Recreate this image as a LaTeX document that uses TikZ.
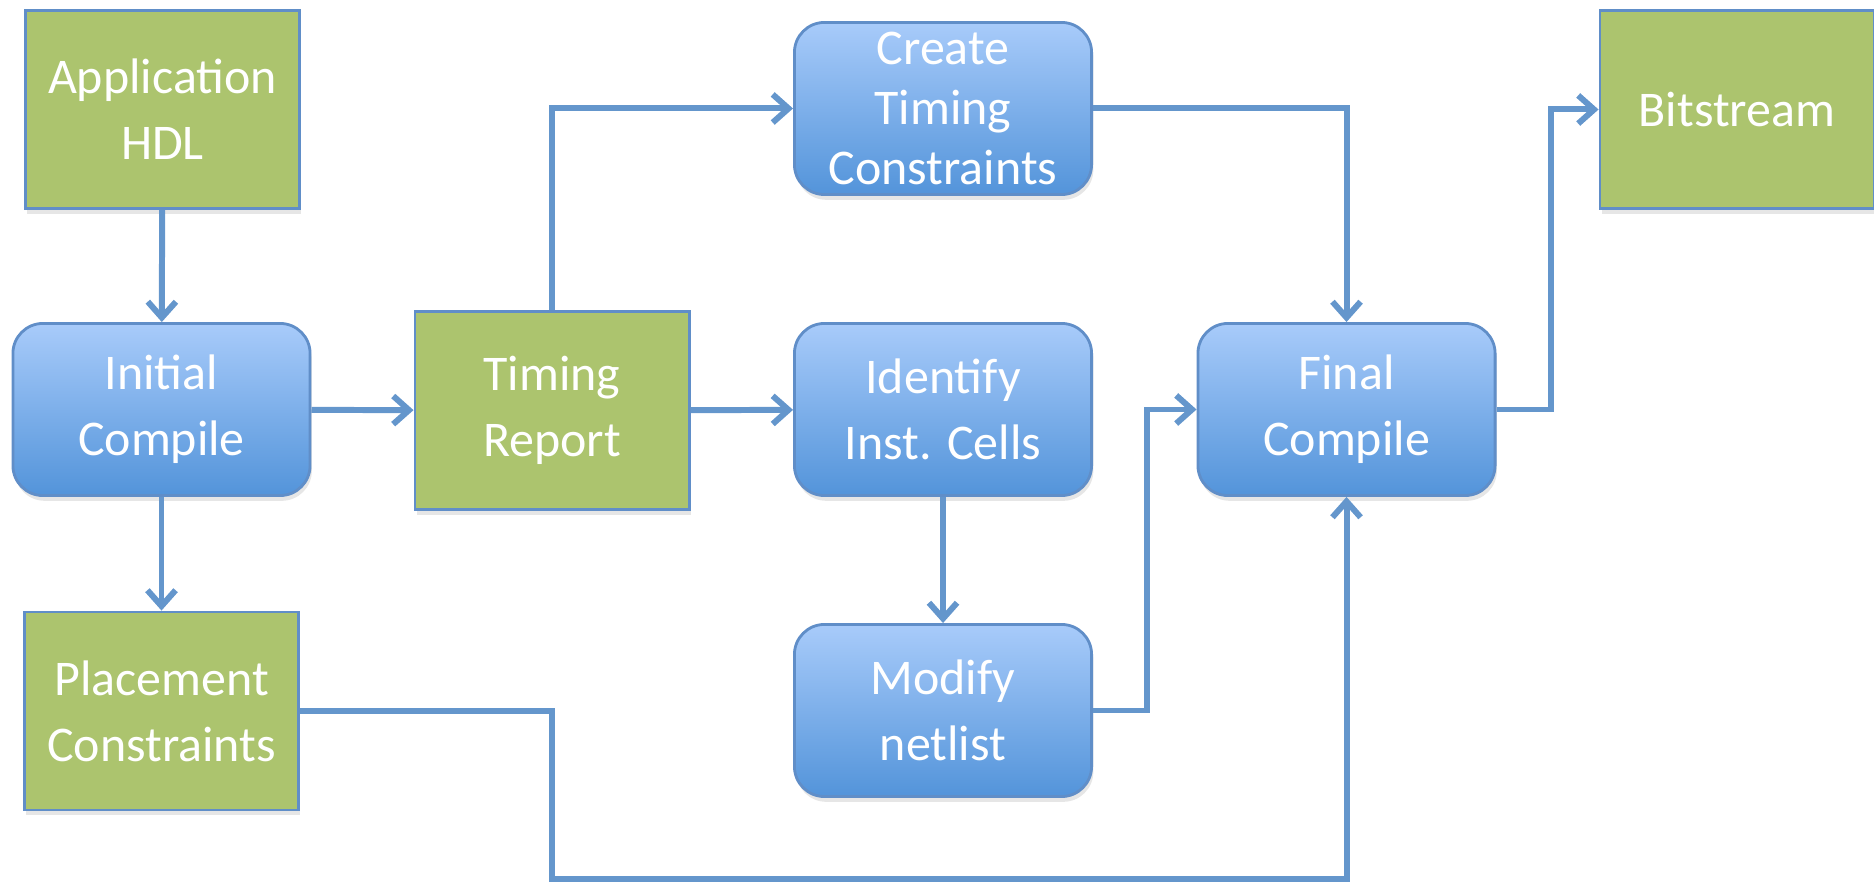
\documentclass[tikz,border=0pt]{standalone}
\usepackage{fontspec}
\setmainfont{Carlito}
\usepackage{tikz}
\usetikzlibrary{arrows.meta,shadows}

\definecolor{boxgreen}{RGB}{172,196,110}
\definecolor{boxedge}{RGB}{96,142,200}
\definecolor{bluetop}{RGB}{168,203,250}
\definecolor{bluebot}{RGB}{83,148,218}
\definecolor{flowblue}{RGB}{100,150,204}

\begin{document}
\begin{tikzpicture}[x=0.01cm,y=-0.01cm,
  every node/.style={text=white,font=\fontsize{14.2}{18.8}\selectfont,align=center,
    draw=boxedge,line width=0.8pt,inner sep=0pt},
  greenbox/.style={fill=boxgreen,minimum width=2.74cm,minimum height=1.98cm,
    drop shadow={opacity=0.2,shadow xshift=0.5pt,shadow yshift=-1.5pt}},
  bluebox/.style={rounded corners=0.3cm,top color=bluetop,bottom color=bluebot,
    minimum width=2.97cm,minimum height=1.72cm,
    drop shadow={opacity=0.2,shadow xshift=0.5pt,shadow yshift=-1.5pt}},
  flow/.style={draw=flowblue,line width=1.7pt,-{Straight Barb[length=4.5pt,width=8pt]}}]
  \useasboundingbox (0,0) rectangle (1874,883);

  \node[greenbox] (app) at (162.5,109.5) {Application\\HDL};
  \node[bluebox] (init) at (161.5,409.5) {Initial\\Compile};
  \node[greenbox] (place) at (161.5,711) {Placement\\Constraints};
  \node[greenbox] (report) at (552,410.5) {Timing\\Report};
  \node[bluebox,font=\fontsize{14.2}{17}\selectfont] (create) at (943,108.5) {Create\\Timing\\Constraints};
  \node[bluebox] (ident) at (943,409.5) {Identify\\Inst. Cells};
  \node[bluebox] (modify) at (943,710.5) {Modify\\netlist};
  \node[bluebox] (final) at (1346.5,409.5) {Final\\Compile};
  \node[greenbox] (bits) at (1737,109.5) {Bitstream};
  \coordinate (low) at (552,879);

  \draw[flow] (app) -- (init);
  \draw[flow] (init) -- (report);
  \draw[flow] (init) -- (place);
  \draw[flow] (report.north) |- (create.west);
  \draw[flow] (report) -- (ident);
  \draw[flow] (create.east) -| (final.north);
  \draw[flow] (ident) -- (modify);
  \draw[flow] (modify.east) -- ++(54,0) |- (final.west);
  \draw[flow] (place.east) -| (low) -| (final.south);
  \draw[flow] (final.east) -- ++(54,0) |- (bits.west);
\end{tikzpicture}
\end{document}
